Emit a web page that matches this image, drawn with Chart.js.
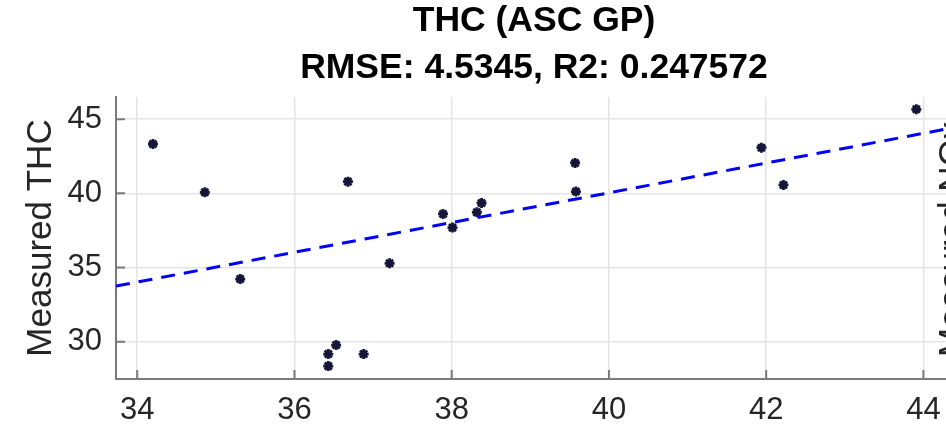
<!DOCTYPE html>
<html>
<head>
<meta charset="utf-8">
<script src="https://cdn.jsdelivr.net/npm/chart.js@4.4.1/dist/chart.umd.min.js"></script>
<style>
    html, body { margin: 0; padding: 0; overflow: hidden; background: #fff; }
    #wrap { width: 1068px; height: 427px; }
</style>
</head>
<body>
<div id="wrap"><canvas id="thc_chart" width="1068" height="427"></canvas></div>
<script>
// predicted vs measured THC
const predicted = [34.2, 34.86, 35.31, 36.68, 36.53, 36.43, 36.43, 36.88, 37.21, 37.89, 38.01, 38.32, 38.38, 39.57, 39.58, 41.94, 42.22, 43.91];
const measured  = [43.33, 40.07, 34.22, 40.79, 29.77, 29.16, 28.35, 29.16, 35.28, 38.61, 37.69, 38.72, 39.35, 42.05, 40.12, 43.08, 40.57, 45.67];
// fitted line end points
const fitX = [33.73, 44.6];
const fitY = [33.75, 44.65];
const titleLines = ['THC (ASC GP)', 'RMSE: 4.5345, R2: 0.247572'];
const yLabel = 'Measured THC';
const nextLabel = 'Measured NOx'; // label of the next subplot, cut off at the right

Chart.defaults.font.family = "'Liberation Sans', Arial, Helvetica, sans-serif";

// MATLAB style inward tick marks + neighbour label
const extras = {
    id: 'extras',
    afterDraw: function (chart) {
        const ctx = chart.ctx;
        const area = chart.chartArea;
        const xs = chart.scales.x, ys = chart.scales.y;
        ctx.save();
        ctx.strokeStyle = '#7a7a7a';
        ctx.lineWidth = 2;
        ctx.beginPath();
        xs.ticks.forEach(function (t) {
            const px = xs.getPixelForValue(t.value);
            ctx.moveTo(px, area.bottom);
            ctx.lineTo(px, area.bottom - 9);
        });
        ys.ticks.forEach(function (t) {
            const py = ys.getPixelForValue(t.value);
            ctx.moveTo(area.left, py);
            ctx.lineTo(area.left + 9, py);
        });
        ctx.stroke();
        // ylabel of the neighbouring axes
        ctx.translate(963, 357);
        ctx.rotate(-Math.PI / 2);
        ctx.fillStyle = '#262626';
        ctx.font = "35px 'Liberation Sans', Arial, sans-serif";
        ctx.textAlign = 'left';
        ctx.textBaseline = 'alphabetic';
        ctx.fillText(nextLabel, 0, 0);
        ctx.restore();
    }
};

const points = predicted.map(function (x, i) { return { x: x, y: measured[i] }; });
const fitLine = fitX.map(function (x, i) { return { x: x, y: fitY[i] }; });

new Chart(document.querySelector('#thc_chart').getContext('2d'), {
    type: 'scatter',
    data: {
        datasets: [{
            type: 'line',
            data: fitLine,
            borderColor: '#0000ff',
            borderWidth: 3,
            borderDash: [14, 9],
            pointRadius: 0,
            fill: false,
            order: 0
        }, {
            data: points,
            pointStyle: 'star',
            pointRadius: 5,
            borderWidth: 2.8,
            borderColor: '#15153a',
            backgroundColor: '#15153a',
            order: 1
        }]
    },
    options: {
        responsive: false,
        animation: false,
        devicePixelRatio: 1,
        layout: { padding: 0 },
        plugins: {
            legend: { display: false },
            tooltip: { enabled: false },
            title: {
                display: true,
                text: titleLines,
                color: '#000',
                font: { size: 35.5, weight: 'bold', lineHeight: 1.318 },
                padding: { top: -2, bottom: 5.4 }
            }
        },
        scales: {
            x: {
                type: 'linear',
                min: 33.73,
                max: 45.74,
                afterFit: function (s) { s.height = 48; },
                ticks: { stepSize: 2, includeBounds: false, padding: 12.5, color: '#262626', font: { size: 31 } },
                grid: { color: '#e4e4e4', lineWidth: 1.5, drawTicks: false },
                border: { display: true, color: '#7a7a7a', width: 2 }
            },
            y: {
                type: 'linear',
                min: 27.48,
                max: 46.5,
                afterFit: function (s) { s.width = 116; },
                ticks: { stepSize: 5, includeBounds: false, padding: 14, color: '#262626', font: { size: 31 } },
                grid: { color: '#e4e4e4', lineWidth: 1.5, drawTicks: false },
                border: { display: true, color: '#7a7a7a', width: 2 },
                title: {
                    display: true,
                    text: yLabel,
                    color: '#262626',
                    font: { size: 35 },
                    padding: { top: 20, bottom: 0 }
                }
            }
        }
    },
    plugins: [extras]
});
</script>
</body>
</html>
